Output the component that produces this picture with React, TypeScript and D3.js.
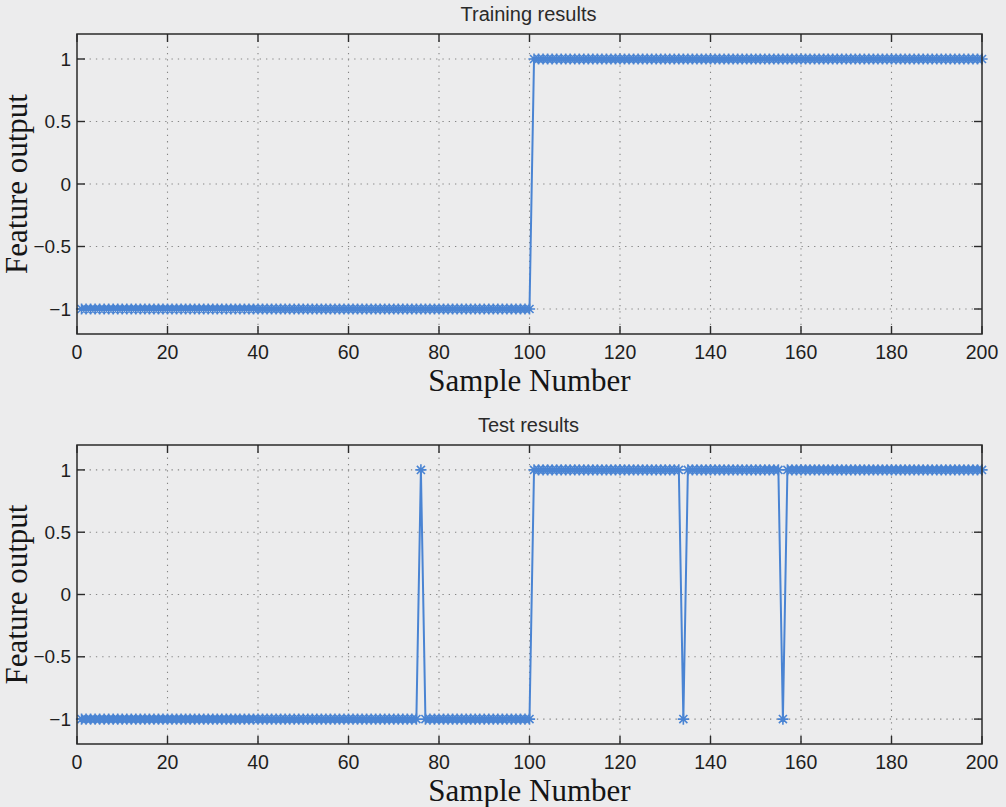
import React from 'react';
import * as d3 from 'd3';

// Feature output per sample (samples 1..200)
const trainingOutput = [
  -1, -1, -1, -1, -1, -1, -1, -1, -1, -1, -1, -1, -1, -1, -1, -1, -1, -1, -1, -1,
  -1, -1, -1, -1, -1, -1, -1, -1, -1, -1, -1, -1, -1, -1, -1, -1, -1, -1, -1, -1,
  -1, -1, -1, -1, -1, -1, -1, -1, -1, -1, -1, -1, -1, -1, -1, -1, -1, -1, -1, -1,
  -1, -1, -1, -1, -1, -1, -1, -1, -1, -1, -1, -1, -1, -1, -1, -1, -1, -1, -1, -1,
  -1, -1, -1, -1, -1, -1, -1, -1, -1, -1, -1, -1, -1, -1, -1, -1, -1, -1, -1, -1,
  1, 1, 1, 1, 1, 1, 1, 1, 1, 1, 1, 1, 1, 1, 1, 1, 1, 1, 1, 1,
  1, 1, 1, 1, 1, 1, 1, 1, 1, 1, 1, 1, 1, 1, 1, 1, 1, 1, 1, 1,
  1, 1, 1, 1, 1, 1, 1, 1, 1, 1, 1, 1, 1, 1, 1, 1, 1, 1, 1, 1,
  1, 1, 1, 1, 1, 1, 1, 1, 1, 1, 1, 1, 1, 1, 1, 1, 1, 1, 1, 1,
  1, 1, 1, 1, 1, 1, 1, 1, 1, 1, 1, 1, 1, 1, 1, 1, 1, 1, 1, 1,
];

const testOutput = [
  -1, -1, -1, -1, -1, -1, -1, -1, -1, -1, -1, -1, -1, -1, -1, -1, -1, -1, -1, -1,
  -1, -1, -1, -1, -1, -1, -1, -1, -1, -1, -1, -1, -1, -1, -1, -1, -1, -1, -1, -1,
  -1, -1, -1, -1, -1, -1, -1, -1, -1, -1, -1, -1, -1, -1, -1, -1, -1, -1, -1, -1,
  -1, -1, -1, -1, -1, -1, -1, -1, -1, -1, -1, -1, -1, -1, -1, 1, -1, -1, -1, -1,
  -1, -1, -1, -1, -1, -1, -1, -1, -1, -1, -1, -1, -1, -1, -1, -1, -1, -1, -1, -1,
  1, 1, 1, 1, 1, 1, 1, 1, 1, 1, 1, 1, 1, 1, 1, 1, 1, 1, 1, 1,
  1, 1, 1, 1, 1, 1, 1, 1, 1, 1, 1, 1, 1, -1, 1, 1, 1, 1, 1, 1,
  1, 1, 1, 1, 1, 1, 1, 1, 1, 1, 1, 1, 1, 1, 1, -1, 1, 1, 1, 1,
  1, 1, 1, 1, 1, 1, 1, 1, 1, 1, 1, 1, 1, 1, 1, 1, 1, 1, 1, 1,
  1, 1, 1, 1, 1, 1, 1, 1, 1, 1, 1, 1, 1, 1, 1, 1, 1, 1, 1, 1,
];

const xTicks = [0, 20, 40, 60, 80, 100, 120, 140, 160, 180, 200];
const yTicks = [-1, -0.5, 0, 0.5, 1];
const xDomain = [0, 200];
const yDomain = [-1.2, 1.2];

const W = 1006;
const H = 807;
const BG = '#ececed';
const BLUE = '#4a84d3';
const AXIS = '#2a2a2a';
const SANS = '"Liberation Sans", Arial, Helvetica, sans-serif';
const SERIF = '"Liberation Serif", "Times New Roman", serif';

const fmt = (v: number) => (v < 0 ? '\u2212' + String(-v) : String(v));

type PanelProps = { title: string; values: number[]; top: number; bottom: number };

const Panel = ({ title, values, top, bottom }: PanelProps) => {
  const left = 77;
  const right = 982;
  const x = d3.scaleLinear().domain(xDomain).range([left, right]);
  const y = d3.scaleLinear().domain(yDomain).range([bottom, top]);
  const pts = values.map((v, i) => [i + 1, v] as [number, number]);
  const line = d3.line<[number, number]>().x(d => x(d[0])).y(d => y(d[1]));
  const tickLen = 8;
  const s = 5.6; // marker half size
  const d2 = s * 0.72;
  const star = (cx: number, cy: number) =>
    `M${cx - s},${cy}L${cx + s},${cy}M${cx},${cy - s}L${cx},${cy + s}` +
    `M${cx - d2},${cy - d2}L${cx + d2},${cy + d2}M${cx - d2},${cy + d2}L${cx + d2},${cy - d2}`;
  const markers = pts.map(p => star(x(p[0]), y(p[1]))).join('');
  const midX = (left + right) / 2;
  const midY = (top + bottom) / 2;

  return (
    <g>
      <text x={midX - 1} y={top - 13} textAnchor="middle" fontFamily={SANS} fontSize={20} fill="#2a2a2a">
        {title}
      </text>
      {/* grid */}
      {xTicks.slice(1, -1).map(t => (
        <line key={'gx' + t} x1={x(t)} x2={x(t)} y1={top} y2={bottom}
          stroke="#858585" strokeWidth={1.1} strokeDasharray="1.3,5" />
      ))}
      {yTicks.map(t => (
        <line key={'gy' + t} x1={left} x2={right} y1={y(t)} y2={y(t)}
          stroke="#858585" strokeWidth={1.1} strokeDasharray="1.3,5" />
      ))}
      {/* ticks */}
      {xTicks.map(t => (
        <g key={'tx' + t}>
          <line x1={x(t)} x2={x(t)} y1={bottom} y2={bottom - tickLen} stroke={AXIS} strokeWidth={1.4} />
          <line x1={x(t)} x2={x(t)} y1={top} y2={top + tickLen} stroke={AXIS} strokeWidth={1.4} />
          <text x={x(t)} y={bottom + 25} textAnchor="middle" fontFamily={SANS} fontSize={19.5} fill="#1e1e1e">
            {fmt(t)}
          </text>
        </g>
      ))}
      {yTicks.map(t => (
        <g key={'ty' + t}>
          <line x1={left} x2={left + tickLen} y1={y(t)} y2={y(t)} stroke={AXIS} strokeWidth={1.4} />
          <line x1={right} x2={right - tickLen} y1={y(t)} y2={y(t)} stroke={AXIS} strokeWidth={1.4} />
          <text x={left - 6} y={y(t)} dy="0.35em" textAnchor="end" fontFamily={SANS} fontSize={19} fill="#1e1e1e">
            {fmt(t)}
          </text>
        </g>
      ))}
      {/* data */}
      <path d={line(pts) || ''} fill="none" stroke={BLUE} strokeWidth={2} />
      <path d={markers} fill="none" stroke={BLUE} strokeWidth={1.6} />
      {/* box */}
      <rect x={left} y={top} width={right - left} height={bottom - top} fill="none" stroke={AXIS} strokeWidth={1.5} />
      <text x={midX} y={bottom + 57} textAnchor="middle" fontFamily={SERIF} fontSize={31} fill="#151515">
        Sample Number
      </text>
      <text transform={`translate(27,${midY}) rotate(-90)`} textAnchor="middle" fontFamily={SERIF} fontSize={31} fill="#151515">
        Feature output
      </text>
    </g>
  );
};

export default function App() {
  return (
    <svg width={W} height={H} style={{ position: 'absolute', left: 0, top: 0, display: 'block' }}>
      <rect x={0} y={0} width={W} height={H} fill={BG} />
      <Panel title="Training results" values={trainingOutput} top={34} bottom={334} />
      <Panel title="Test results" values={testOutput} top={445} bottom={744} />
    </svg>
  );
}
